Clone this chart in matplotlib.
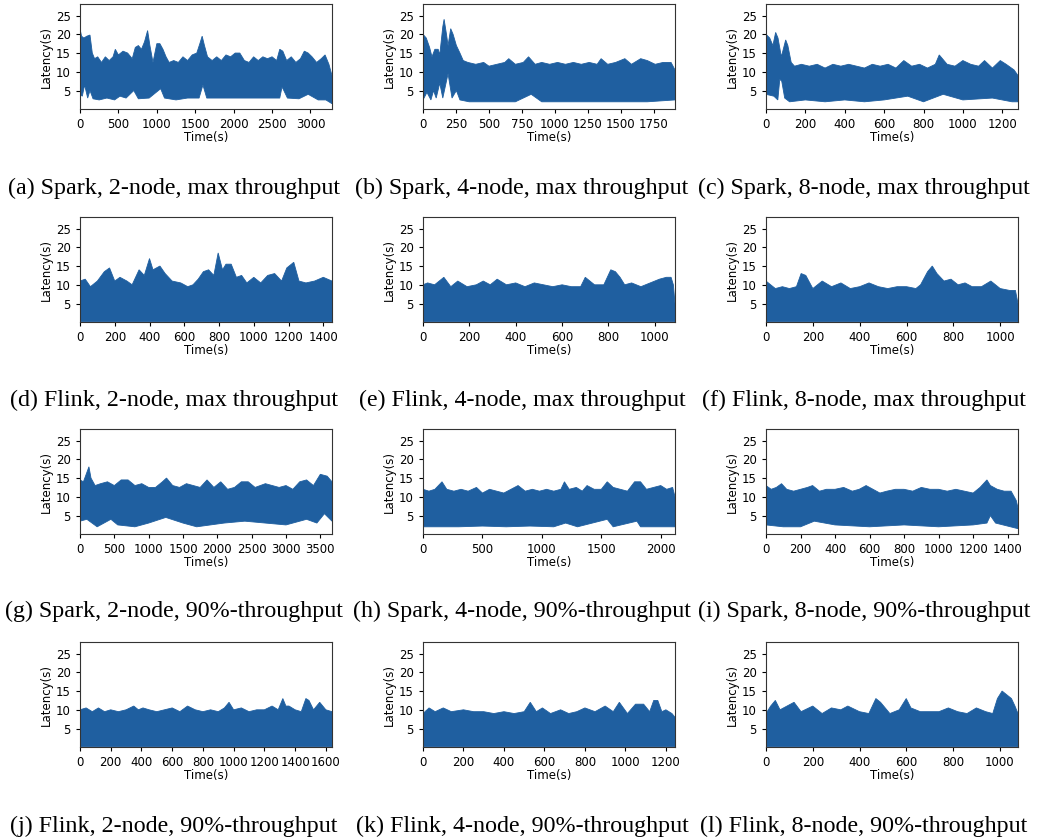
import matplotlib
matplotlib.use("Agg")
import matplotlib.pyplot as plt
import numpy as np

# upper / lower envelope of each latency trace
# (a) Spark, 2-node, max throughput
a_t_hi = [0, 20, 50, 90, 130, 160, 190, 230, 280, 330, 380, 430, 460, 500, 560, 620, 680, 720, 760, 800,
          840, 880, 910, 950, 1000, 1040, 1080, 1120, 1160, 1220, 1280, 1340, 1400, 1460, 1520, 1560, 1590,
          1620, 1660, 1720, 1780, 1840, 1900, 1960, 2020, 2080, 2140, 2200, 2260, 2320, 2380, 2440, 2500,
          2560, 2600, 2640, 2690, 2750, 2810, 2870, 2920, 2970, 3020, 3080, 3140, 3190, 3240, 3280]
a_hi = [21.5, 19.5, 19, 19.5, 19.8, 15, 13.5, 14, 12.5, 14, 13, 14, 16, 14.5, 15.5, 15, 13.5, 16.5, 17, 16,
        18, 21, 17, 12.5, 17.5, 17.5, 16, 14, 12.5, 13, 12.5, 14, 13, 14.5, 15, 17.5, 19.5,
        17, 14, 13, 14, 13, 14.5, 14, 15, 15, 13, 12.5, 14, 13, 14, 13.5, 14,
        13, 16, 15.5, 13, 14, 12.5, 13.5, 15.5, 15, 14, 12.5, 13.5, 14.5, 12, 9]
a_t_lo = [0, 30, 60, 100, 130, 170, 250, 350, 450, 520, 600, 700, 760, 900, 1050, 1100, 1250, 1400, 1550,
          1600, 1650, 1800, 2000, 2200, 2400, 2600, 2630, 2700, 2850, 2970, 3100, 3200, 3280]
a_lo = [4, 3.5, 6.5, 3, 5, 2.8, 2.5, 3, 2.5, 3.5, 3, 5, 2.8, 3, 5.5, 3, 2.5, 3, 3,
        6.5, 3, 3, 3, 3, 3, 3, 6, 3, 2.8, 4, 2.5, 2.5, 1.5]

# (b) Spark, 4-node, max throughput
b_t_hi = [0, 25, 50, 68, 90, 115, 127, 150, 160, 178, 190, 210, 228, 253, 280, 305, 340, 400, 460, 500,
          560, 620, 650, 700, 760, 800, 850, 900, 960, 1020, 1080, 1140, 1200, 1260, 1320, 1350, 1400,
          1460, 1530, 1580, 1650, 1700, 1760, 1820, 1880, 1910]
b_hi = [20, 19, 16.5, 14, 16, 16, 14.5, 22, 24, 20, 17, 21.5, 20, 17, 15, 13, 12.5, 12, 12.5, 11.5,
        12, 12.5, 13.5, 12, 12.5, 14, 12, 12.5, 12, 12.5, 12, 12.5, 12, 12.5, 12, 13.5, 12,
        12.5, 13.5, 12, 13.5, 13, 12, 12.5, 12.5, 10.5]
b_t_lo = [0, 30, 60, 80, 100, 127, 150, 190, 220, 253, 280, 350, 500, 700, 820, 900, 1200, 1500, 1700, 1910]
b_lo = [2.5, 4.5, 2.5, 5, 3, 7, 3, 9.5, 3, 5, 2.5, 2, 2, 2, 4, 2, 2, 2, 2, 2.5]

# (c) Spark, 8-node, max throughput
c_t_hi = [0, 19, 35, 49, 61, 78, 100, 111, 128, 145, 180, 220, 260, 300, 340, 380, 420, 460, 500, 540,
          580, 620, 660, 700, 740, 780, 820, 860, 880, 920, 960, 1000, 1040, 1080, 1110, 1150, 1190,
          1220, 1260, 1280]
c_hi = [20, 19, 17, 20.5, 19, 14, 18.5, 17, 12.5, 11.5, 12, 11.5, 12, 11, 12, 11.5, 12, 11.5, 11, 12,
        11.5, 12, 11, 13, 11.5, 12, 11, 12, 14.5, 12, 11.5, 13, 12, 11.5, 13, 11, 13,
        12, 10.5, 9]
c_t_lo = [0, 40, 60, 70, 80, 95, 120, 200, 300, 400, 500, 600, 720, 800, 900, 1000, 1150, 1250, 1280]
c_lo = [4, 3.5, 2.5, 8, 7.5, 3, 2, 2.5, 2, 2.5, 2, 2.5, 3.5, 2, 4, 2.5, 3, 2, 2]

# (d) Flink, 2-node, max throughput
d_t_hi = [0, 30, 60, 100, 140, 170, 200, 230, 270, 300, 340, 370, 400, 420, 460, 490, 530, 580, 620, 650,
          680, 710, 740, 770, 795, 820, 840, 870, 900, 930, 960, 1000, 1040, 1080, 1120, 1160, 1190,
          1230, 1260, 1300, 1350, 1400, 1450]
d_hi = [11, 11.5, 9.5, 11, 13.5, 14.5, 11, 12, 11, 10, 14, 12.5, 17, 14, 15, 13, 11, 10.5, 9.5, 10,
        11.5, 13.5, 14, 12.5, 18.5, 14, 15.5, 15.5, 12, 12.5, 10.5, 12, 10.5, 12.5, 13, 11, 14.5,
        16, 11, 10.5, 11, 12, 11]
d_t_lo = [0, 1450]
d_lo = [0.2, 0.2]

# (e) Flink, 4-node, max throughput
e_t_hi = [0, 20, 50, 90, 120, 150, 190, 230, 260, 290, 320, 360, 400, 440, 480, 520, 560, 600, 640, 680,
          700, 740, 780, 810, 830, 850, 870, 900, 940, 980, 1020, 1050, 1070, 1080, 1087]
e_hi = [10, 10.5, 10, 12, 9.5, 11, 9.5, 10, 11, 10, 11.5, 10, 10.5, 9.5, 10.5, 10, 9.5, 10, 9.5, 9.5,
        12, 10, 10, 14, 13.5, 12, 10, 10.5, 9.5, 10.5, 11.5, 12, 12, 10, 5]
e_t_lo = [0, 1087]
e_lo = [0.2, 0.2]

# (f) Flink, 8-node, max throughput
f_t_hi = [0, 20, 40, 70, 100, 130, 150, 170, 200, 240, 280, 320, 360, 400, 440, 480, 520, 560, 600, 640,
          660, 690, 710, 730, 760, 790, 820, 850, 880, 920, 960, 1000, 1040, 1065, 1076]
f_hi = [11, 10, 9, 9.5, 9, 9.5, 13, 12.5, 9, 11, 9.5, 10.5, 9, 9.5, 10.5, 9.5, 9, 9.5, 9.5, 9,
        10, 13.5, 15, 13, 11, 11.5, 10, 10.5, 9.5, 9.5, 11, 9, 8.5, 8.5, 5]
f_t_lo = [0, 1076]
f_lo = [0.2, 0.2]

# (g) Spark, 2-node, 90%-throughput
g_t_hi = [0, 50, 110, 130, 160, 220, 300, 400, 500, 600, 700, 800, 900, 1000, 1100, 1200, 1260, 1350,
          1450, 1550, 1650, 1750, 1850, 1950, 2050, 2150, 2250, 2350, 2450, 2550, 2700, 2800, 2900,
          3000, 3100, 3200, 3300, 3400, 3500, 3600, 3670]
g_hi = [14.5, 14, 17, 18, 15, 13, 13.5, 14, 13, 14.5, 14.5, 13, 13.5, 12.5, 12.5, 14, 15, 13,
        12.5, 13.5, 13, 12.5, 14.5, 12.5, 14, 12, 12.5, 14, 14, 12.5, 13.5, 13, 12.5,
        13, 12, 14, 14.5, 13, 16, 15.5, 14]
g_t_lo = [0, 100, 250, 450, 550, 800, 1000, 1250, 1500, 1700, 2100, 2400, 2700, 3000, 3300, 3450, 3560, 3670]
g_lo = [3.5, 4, 2, 4, 2.5, 2, 3, 4.5, 3, 2, 3, 3.5, 3, 2.5, 4, 3, 5.5, 3.5]

# (h) Spark, 4-node, 90%-throughput
h_t_hi = [0, 50, 100, 160, 200, 260, 320, 380, 450, 500, 560, 620, 680, 740, 800, 860, 920, 980, 1040,
          1100, 1160, 1190, 1230, 1290, 1340, 1380, 1440, 1500, 1550, 1600, 1660, 1720, 1780, 1830,
          1880, 1940, 2000, 2050, 2100, 2120]
h_hi = [12, 11.5, 12, 14, 12, 11.5, 12, 11.5, 12.5, 11, 12, 11.5, 11, 12, 13, 11.5, 12, 11.5, 12,
        11.5, 12, 14, 12, 12.5, 11.5, 13, 12, 12, 14, 12.5, 12, 11.5, 14, 14,
        12, 12.5, 13, 12, 12.5, 10]
h_t_lo = [0, 100, 300, 500, 700, 900, 1100, 1200, 1300, 1550, 1600, 1800, 1830, 2000, 2120]
h_lo = [2, 2, 2, 2.2, 2, 2.2, 2, 3, 2, 4, 2, 3.5, 2, 2, 2]

# (i) Spark, 8-node, 90%-throughput
i_t_hi = [0, 30, 60, 90, 120, 160, 200, 240, 270, 310, 350, 400, 450, 500, 540, 580, 620, 660, 700,
          750, 800, 850, 900, 950, 1000, 1050, 1100, 1150, 1200, 1240, 1280, 1300, 1340, 1380, 1420,
          1450, 1460]
i_hi = [13, 12, 12.5, 13.5, 12, 11.5, 12, 12.5, 13, 11.5, 12, 12, 12.5, 11.5, 12, 13, 12, 11, 11.5,
        12, 12, 11.5, 12.5, 12, 12, 11.5, 12, 11.5, 11, 12.5, 14.5, 13, 12, 11.5, 11.5,
        9, 7]
i_t_lo = [0, 100, 200, 280, 400, 600, 800, 1000, 1200, 1280, 1300, 1330, 1460]
i_lo = [2.5, 2, 2, 3.5, 2.5, 2, 2.5, 2, 2.5, 3, 5, 3, 1.5]

# (j) Flink, 2-node, 90%-throughput
j_t_hi = [0, 40, 80, 120, 160, 200, 250, 300, 350, 380, 410, 450, 500, 550, 600, 650, 700, 750, 800,
          850, 900, 940, 970, 1000, 1050, 1100, 1150, 1200, 1250, 1290, 1320, 1340, 1360, 1400, 1440,
          1470, 1490, 1520, 1560, 1600, 1640]
j_hi = [10, 10.5, 9.5, 10.5, 9.5, 10, 9.5, 10, 11, 10, 10.5, 10, 9.5, 10, 10.5, 9.5, 11, 10, 9.5,
        10, 9.5, 10.5, 12, 10, 10.5, 9.5, 10, 10, 11, 10, 13, 11, 11, 10, 9.5,
        13, 12.5, 10, 12, 10, 9.5]
j_t_lo = [0, 1640]
j_lo = [0.2, 0.2]

# (k) Flink, 4-node, 90%-throughput
k_t_hi = [0, 30, 60, 100, 140, 200, 250, 300, 350, 400, 450, 500, 530, 560, 590, 630, 680, 720, 760,
          800, 850, 900, 940, 970, 1010, 1050, 1090, 1120, 1140, 1160, 1180, 1200, 1230, 1245]
k_hi = [9, 10.5, 9.5, 10.5, 9.5, 10, 9.5, 9.5, 9, 9.5, 9, 9.5, 12, 9.5, 10.5, 9, 10, 9, 9.5,
        10.5, 9.5, 11, 9.5, 12, 9, 11.5, 11.5, 9.5, 12.5, 12.5, 9.5, 10, 9, 8]
k_t_lo = [0, 1245]
k_lo = [0.2, 0.2]

# (l) Flink, 8-node, 90%-throughput
l_t_hi = [0, 20, 40, 60, 90, 120, 150, 200, 240, 280, 320, 350, 400, 440, 470, 490, 530, 570, 600, 620,
          660, 700, 740, 780, 820, 860, 900, 940, 970, 990, 1010, 1030, 1050, 1065, 1078]
l_hi = [9, 11, 12.5, 10, 11, 12, 9.5, 11, 9, 10.5, 10, 11, 9.5, 9, 13, 12, 9, 10, 13, 10.5,
        9.5, 9.5, 9.5, 10.5, 9.5, 9, 10.5, 9.5, 9, 13, 15, 14, 13, 11, 9]
l_t_lo = [0, 1078]
l_lo = [0.2, 0.2]

captions = [
    "(a) Spark, 2-node, max throughput", "(b) Spark, 4-node, max throughput",
    "(c) Spark, 8-node, max throughput", "(d) Flink, 2-node, max throughput",
    "(e) Flink, 4-node, max throughput", "(f) Flink, 8-node, max throughput",
    "(g) Spark, 2-node, 90%-throughput", "(h) Spark, 4-node, 90%-throughput",
    "(i) Spark, 8-node, 90%-throughput", "(j) Flink, 2-node, 90%-throughput",
    "(k) Flink, 4-node, 90%-throughput", "(l) Flink, 8-node, 90%-throughput",
]
x_ticks = [
    list(range(0, 3001, 500)), list(range(0, 1751, 250)), list(range(0, 1201, 200)),
    list(range(0, 1401, 200)), list(range(0, 1001, 200)), list(range(0, 1001, 200)),
    list(range(0, 3501, 500)), list(range(0, 2001, 500)), list(range(0, 1401, 200)),
    list(range(0, 1601, 200)), list(range(0, 1201, 200)), list(range(0, 1001, 200)),
]
panels = [
    (a_t_hi, a_hi, a_t_lo, a_lo), (b_t_hi, b_hi, b_t_lo, b_lo), (c_t_hi, c_hi, c_t_lo, c_lo),
    (d_t_hi, d_hi, d_t_lo, d_lo), (e_t_hi, e_hi, e_t_lo, e_lo), (f_t_hi, f_hi, f_t_lo, f_lo),
    (g_t_hi, g_hi, g_t_lo, g_lo), (h_t_hi, h_hi, h_t_lo, h_lo), (i_t_hi, i_hi, i_t_lo, i_lo),
    (j_t_hi, j_hi, j_t_lo, j_lo), (k_t_hi, k_hi, k_t_lo, k_lo), (l_t_hi, l_hi, l_t_lo, l_lo),
]

color = "#1f5fa0"
col_left = [80, 423, 766]
row_bottom = [109.3, 322.3, 534.3, 747.3]
cap_x = [174, 522, 864]
cap_y = [188, 400, 611, 826]
W, H = 1037, 838

fig = plt.figure(figsize=(W / 100, H / 100), dpi=100)
for idx, (t_hi, hi, t_lo, lo) in enumerate(panels):
    r, c = divmod(idx, 3)
    ax = fig.add_axes([col_left[c] / W, 1 - row_bottom[r] / H, 252 / W, 105 / H])
    xs = np.r_[t_hi, t_lo[::-1]]
    ys = np.r_[hi, lo[::-1]]
    ax.fill(xs, ys, color=color, lw=0.6, ec=color)
    ax.set_xlim(0, max(t_hi))
    ax.set_ylim(0, 28)
    ax.set_yticks([5, 10, 15, 20, 25])
    ax.set_xticks(x_ticks[idx])
    ax.tick_params(labelsize=8.5, length=3, width=0.8)
    ax.set_xlabel("Time(s)", fontsize=8.5, labelpad=0)
    ax.set_ylabel("Latency(s)", fontsize=8.5, labelpad=2)
    for s in ax.spines.values():
        s.set_linewidth(0.8)
        s.set_color("#333333")
    fig.text(cap_x[c] / W, 1 - cap_y[r] / H, captions[idx], ha="center", va="center",
             family="Liberation Serif", fontsize=17.3)

fig.savefig("out.png", dpi=100)
